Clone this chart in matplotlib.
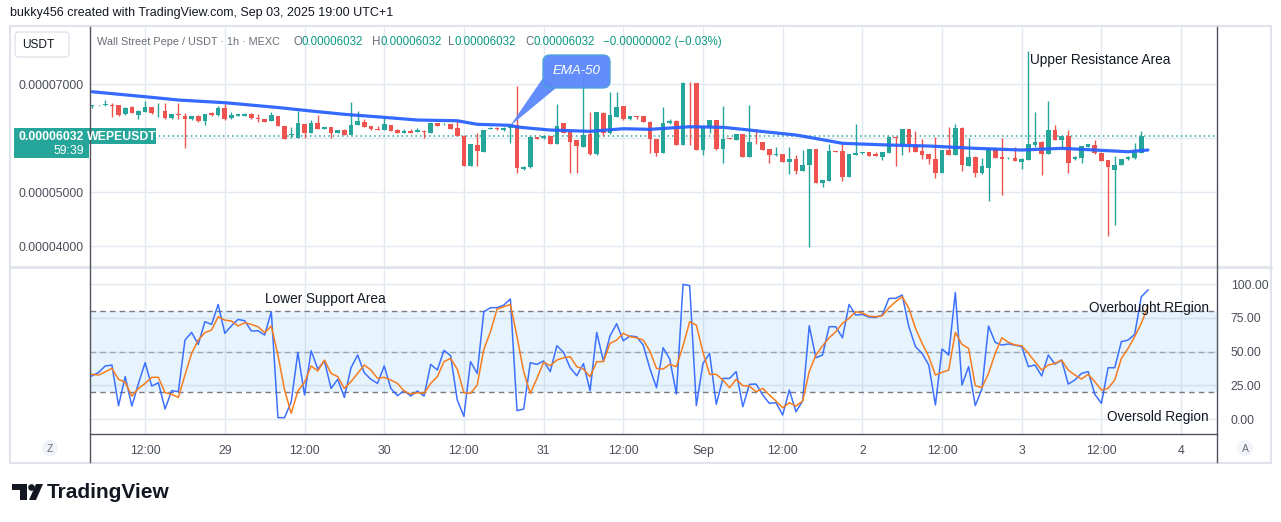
import matplotlib
matplotlib.use("Agg")
import matplotlib.pyplot as plt
from matplotlib.patches import FancyBboxPatch, Polygon, Rectangle, Circle
import numpy as np
import pandas as pd

plt.rcParams['font.family'] = ['Liberation Sans', 'DejaVu Sans']

W, H = 1281, 522
UNIT = 1e-8  # prices below are in units of 0.00000001 USDT

# ---------------- data ----------------
start_time = "2025-08-28 04:00"
opens = [6593, 6606, 6606, 6611, 6611, 6439, 6580, 6426, 6487, 6569,
         6457, 6506, 6365, 6439, 6407, 6346, 6413, 6320, 6457, 6420,
         6550, 6365, 6413, 6413, 6444, 6365, 6346, 6320, 6407, 6222,
         6065, 6006, 6259, 6098, 6283, 6172, 6204, 6098, 6148, 6061,
         6241, 6291, 6222, 6172, 6154, 6241, 6154, 6098, 6130, 6117,
         6135, 6098, 6278, 6254, 6259, 6185, 6043, 5487, 5870, 5746,
         6167, 6191, 6148, 6180, 6241, 5420, 5457, 6013, 5994, 6037,
         5894, 6278, 6130, 5963, 5839, 6074, 5698, 6469, 6087, 6394,
         6593, 6346, 6400, 6407, 6302, 5976, 5728, 6272, 6320, 5870,
         7024, 7019, 5778, 6209, 6333, 5796, 5994, 5963, 6074, 5654,
         5926, 5926, 5796, 5691, 5698, 5561, 5606, 5395, 5500, 5796,
         5172, 5209, 5759, 5759, 5283, 5685, 5717, 5735, 5704, 5643,
         5728, 6024, 5889, 6167, 5870, 5759, 5704, 5606, 5357, 5778,
         5685, 6191, 5487, 5654, 5346, 5450, 5809, 5654, 5624, 5635,
         5561, 5593, 5870, 5931, 5704, 6148, 5963, 6037, 5606, 5635,
         5839, 5865, 5728, 5593, 5407, 5500, 5606, 5624, 5728, 6032]
highs = [6615, 6615, 6704, 6654, 6615, 6567, 6590, 6512, 6685, 6575,
         6643, 6654, 6445, 6643, 6457, 6413, 6420, 6450, 6487, 6593,
         6630, 6482, 6445, 6469, 6463, 6439, 6352, 6487, 6413, 6230,
         6198, 6506, 6265, 6333, 6426, 6210, 6210, 6154, 6167, 6661,
         6500, 6352, 6228, 6222, 6394, 6248, 6160, 6167, 6167, 6180,
         6141, 6284, 6284, 6278, 6265, 6333, 6050, 5889, 6087, 6154,
         6209, 6198, 6209, 6228, 6963, 5475, 6030, 6019, 6037, 6043,
         6630, 6284, 6136, 5970, 7135, 6482, 6488, 6475, 6857, 6852,
         6600, 6413, 6407, 6413, 6309, 5982, 6569, 6346, 6326, 7030,
         7030, 7025, 6228, 6340, 6340, 6593, 6000, 6075, 6080, 6611,
         6167, 5932, 5802, 5833, 5704, 5839, 5685, 5778, 5802, 5802,
         5228, 5889, 5765, 5889, 5710, 6259, 5747, 5741, 5735, 5741,
         6030, 6030, 6173, 6173, 6130, 5981, 5710, 6024, 5784, 6209,
         6259, 6198, 6006, 5660, 5635, 5826, 5815, 5994, 5641, 5839,
         5623, 7611, 6487, 5937, 6685, 6241, 6043, 6148, 5660, 5858,
         5895, 5963, 5735, 5600, 5667, 5612, 5672, 5902, 6130, 6032]
lows = [6550, 6600, 6600, 6394, 6407, 6430, 6460, 6346, 6480, 6450,
        6383, 6358, 6358, 6346, 5809, 6340, 6300, 6241, 6413, 6413,
        6340, 6358, 6407, 6407, 6358, 6291, 6296, 6315, 6215, 5980,
        6006, 6000, 6006, 6090, 6160, 6165, 6006, 6090, 6055, 6055,
        6235, 6198, 6154, 6148, 6148, 6124, 6092, 6092, 6092, 6111,
        6006, 6092, 6215, 6248, 6165, 6037, 5480, 5480, 5487, 5740,
        6160, 6155, 6130, 5913, 5346, 5413, 5450, 5975, 5988, 5888,
        5888, 6092, 5346, 5346, 5833, 5692, 5692, 6037, 6080, 6388,
        6340, 6340, 6346, 6296, 5728, 5667, 5722, 6265, 5863, 5863,
        5870, 5770, 5685, 6098, 5778, 5543, 5980, 5957, 5648, 5648,
        5883, 5772, 5543, 5667, 5555, 5333, 5333, 5389, 3987, 5165,
        5098, 5203, 5735, 5209, 5277, 5680, 5710, 5667, 5667, 5593,
        5722, 5481, 5685, 5746, 5740, 5606, 5519, 5265, 5350, 5680,
        5680, 5395, 5480, 5283, 5340, 4833, 5630, 4944, 5617, 5574,
        5426, 5587, 5839, 5315, 5698, 5957, 5815, 5357, 5600, 5543,
        5833, 5710, 5574, 4185, 4389, 5494, 5600, 5617, 5722, 6032]
closes = [6611, 6611, 6624, 6598, 6426, 6561, 6469, 6506, 6580, 6457,
          6469, 6365, 6439, 6420, 6346, 6407, 6309, 6444, 6420, 6550,
          6346, 6426, 6439, 6444, 6365, 6346, 6302, 6426, 6222, 5987,
          6074, 6283, 6087, 6283, 6172, 6204, 6098, 6148, 6061, 6241,
          6315, 6204, 6172, 6154, 6254, 6130, 6098, 6130, 6098, 6143,
          6117, 6278, 6222, 6265, 6172, 6043, 5487, 5883, 5765, 6148,
          6180, 6161, 6185, 6222, 5439, 5469, 6024, 5981, 6031, 5894,
          6222, 6098, 5931, 5852, 6056, 5698, 6482, 6087, 6426, 6580,
          6346, 6407, 6394, 6302, 5976, 5728, 6272, 6320, 5870, 7024,
          7013, 5778, 6222, 6333, 5791, 5981, 5987, 6069, 5654, 5926,
          5920, 5778, 5685, 5704, 5561, 5606, 5395, 5500, 5796, 5172,
          5222, 5759, 5741, 5283, 5704, 5728, 5741, 5672, 5672, 5735,
          6024, 6006, 6167, 5889, 5746, 5685, 5606, 5357, 5778, 5685,
          6191, 5500, 5654, 5346, 5481, 5820, 5635, 5606, 5635, 5580,
          5617, 5889, 5931, 5704, 6148, 5963, 6037, 5543, 5654, 5852,
          5889, 5717, 5580, 5469, 5500, 5606, 5654, 5746, 6034, 6032]

# EMA-50 read at selected bars (bar index, value)
ema_idx = [0, 8, 13, 20, 28, 33, 38, 44, 49, 55, 58, 63, 64, 69, 75, 80, 84,
           90, 95, 98, 101, 106, 108, 113, 120, 126, 133, 140, 146, 151, 156, 159]
ema_val = [6857, 6765, 6704, 6654, 6565, 6500, 6439, 6383, 6333, 6320, 6254,
           6235, 6204, 6148, 6124, 6172, 6161, 6209, 6198, 6161, 6120, 6056,
           6013, 5902, 5870, 5852, 5809, 5778, 5809, 5778, 5746, 5778]

rsi = [31.9, 34.6, 39.3, 40.0, 9.9, 31.4, 9.6, 26.4, 41.7, 24.4,
       26.9, 7.4, 21.0, 20.2, 58.5, 64.2, 55.3, 72.1, 70.1, 84.9,
       63.5, 69.1, 73.8, 72.8, 65.2, 65.4, 62.2, 79.5, 1.0, 1.0,
       12.8, 49.4, 17.8, 50.6, 37.0, 43.0, 22.7, 29.4, 16.0, 38.0,
       47.4, 34.3, 29.4, 26.4, 39.3, 22.7, 17.3, 21.0, 17.0, 20.7,
       17.0, 40.5, 36.3, 50.9, 46.9, 14.1, 2.0, 42.5, 33.8, 79.5,
       82.5, 82.5, 84.4, 88.9, 6.2, 7.4, 41.7, 40.5, 43.0, 35.1,
       54.3, 49.4, 38.0, 32.1, 41.0, 21.0, 64.2, 43.0, 61.5, 70.6,
       58.0, 61.5, 61.0, 54.8, 37.5, 23.2, 52.8, 44.4, 18.5, 99.8,
       98.8, 9.9, 41.2, 48.6, 10.9, 30.1, 30.1, 35.1, 9.1, 25.7,
       25.9, 17.8, 11.6, 12.1, 3.0, 21.5, 5.4, 13.3, 69.1, 45.4,
       47.4, 68.4, 68.4, 60.2, 84.9, 77.0, 77.5, 75.5, 75.3, 77.0,
       89.4, 89.4, 91.9, 68.4, 53.6, 48.6, 40.0, 10.4, 51.9, 47.4,
       93.8, 25.2, 38.8, 9.9, 22.2, 68.9, 56.8, 54.8, 55.6, 54.8,
       53.6, 38.8, 40.0, 31.9, 47.4, 40.7, 43.7, 25.9, 28.9, 33.8,
       35.1, 18.3, 11.6, 38.0, 38.0, 57.3, 58.5, 62.7, 90.6, 95.6]
rsi_ma = [33.1, 32.6, 35.0, 37.5, 29.4, 27.2, 17.0, 22.7, 26.4, 30.9,
          30.9, 19.5, 18.3, 16.0, 32.6, 48.6, 58.5, 64.0, 65.9, 75.8,
          73.3, 72.6, 68.9, 71.4, 70.1, 68.4, 64.0, 68.9, 47.4, 21.5,
          4.2, 20.7, 27.2, 39.3, 35.6, 43.7, 33.8, 31.4, 22.7, 27.7,
          33.8, 40.0, 36.3, 30.1, 30.9, 28.9, 26.4, 20.7, 18.5, 19.5,
          19.0, 26.4, 31.4, 42.5, 44.9, 37.0, 19.5, 19.0, 25.2, 51.6,
          64.7, 81.5, 83.2, 84.9, 61.0, 35.1, 19.0, 30.1, 42.0, 39.5,
          43.7, 45.4, 46.2, 38.8, 37.0, 31.4, 42.5, 42.5, 56.0, 58.5,
          63.5, 61.0, 60.2, 58.5, 50.4, 37.5, 37.0, 40.5, 38.8, 54.3,
          72.1, 69.6, 49.4, 33.1, 33.1, 28.9, 23.2, 29.4, 24.7, 24.4,
          20.2, 22.7, 17.8, 13.3, 8.4, 12.1, 9.6, 13.3, 35.1, 47.4,
          54.1, 60.2, 64.7, 70.9, 74.6, 79.5, 78.5, 76.2, 75.8, 76.5,
          82.5, 86.9, 90.6, 82.0, 67.2, 56.0, 46.2, 32.6, 34.6, 36.3,
          64.2, 55.3, 52.3, 24.7, 23.2, 33.8, 48.6, 60.2, 56.8, 54.8,
          54.3, 48.6, 42.5, 36.3, 40.0, 41.2, 43.7, 36.3, 32.6, 29.6,
          33.1, 27.7, 21.5, 22.7, 28.9, 44.9, 52.3, 61.0, 70.9, 83.2]

price_ticks = [4000, 5000, 6000, 7000]
rsi_ticks = [0, 25, 50, 75, 100]
rsi_levels = [20, 50, 80]
last_price = 6032

UP, DOWN = '#26a69a', '#ef5350'
GRID = '#e3e9f0'
TXT = '#4a4e59'

times = pd.date_range(start_time, periods=len(closes), freq="h")
xs = np.arange(len(closes))
t0 = times[0]
tick_times = pd.date_range("2025-08-28 12:00", "2025-09-04 00:00", freq="12h")
tick_pos = [(t - t0) / pd.Timedelta(hours=1) for t in tick_times]
tick_lab = []
for t in tick_times:
    if t.hour == 12:
        tick_lab.append("12:00")
    elif t.day == 1:
        tick_lab.append(t.strftime("%b"))
    else:
        tick_lab.append(str(t.day))

# ---------------- figure ----------------
fig = plt.figure(figsize=(W / 100, H / 100), dpi=100)
fig.patch.set_facecolor('white')

def fbox(x0, y0, x1, y1):
    return [x0 / W, 1 - y1 / H, (x1 - x0) / W, (y1 - y0) / H]

ax = fig.add_axes(fbox(90, 27, 1217, 266))
ax2 = fig.add_axes(fbox(90, 268, 1217, 434))
XL = (-0.3, 169.4)

# --- price pane
o = np.array(opens) * UNIT
h = np.array(highs) * UNIT
l = np.array(lows) * UNIT
c = np.array(closes) * UNIT
cols = [UP if cc >= oo else DOWN for oo, cc in zip(o, c)]
ax.vlines(xs, l, h, colors=cols, lw=1, zorder=3)
body = np.maximum(np.abs(c - o), 14 * UNIT)
ax.bar(xs, body, bottom=np.minimum(o, c), width=0.7, color=cols, lw=0, zorder=4)
ax.plot(ema_idx, np.array(ema_val) * UNIT, color='#2962ff', lw=2.3,
        solid_capstyle='round', zorder=5, alpha=0.95)
ax.axhline(last_price * UNIT, color=UP, lw=1.1, ls=(0, (1, 2)), zorder=2)
ax.set_xlim(*XL)
ax.set_ylim(3630 * UNIT, 8056 * UNIT)
ax.set_yticks([v * UNIT for v in price_ticks])
ax.set_yticklabels([f"{v * UNIT:.8f}" for v in price_ticks])
ax.set_xticks(tick_pos)
ax.tick_params(axis='x', labelbottom=False, length=0)
ax.tick_params(axis='y', length=0, pad=4.5, labelsize=8.8, labelcolor=TXT)
ax.grid(True, color=GRID, lw=1)
ax.set_axisbelow(True)
for s in ax.spines.values():
    s.set_visible(False)

# --- RSI pane
ax2.axhspan(rsi_levels[0], rsi_levels[2], color='#2196f3', alpha=0.1, lw=0, zorder=1)
for lv, a in zip(rsi_levels, [1, 0.6, 1]):
    ax2.axhline(lv, color='#787b86', lw=1, ls=(0, (4, 3)), alpha=a, zorder=2)
ax2.plot(xs, rsi, color='#2962ff', lw=1.1, zorder=4, alpha=0.9)
ax2.plot(xs, rsi_ma, color='#f57c1f', lw=1.1, zorder=5)
ax2.set_xlim(*XL)
ax2.set_ylim(-11.1, 111.9)
ax2.set_yticks(rsi_ticks)
ax2.set_yticklabels([f"{v:.2f}" for v in rsi_ticks])
ax2.yaxis.tick_right()
ax2.set_xticks(tick_pos)
ax2.set_xticklabels(tick_lab)
ax2.tick_params(axis='y', length=0, pad=10, labelsize=8.8, labelcolor=TXT)
ax2.tick_params(axis='x', length=0, pad=8, labelsize=8.8, labelcolor=TXT)
ax2.grid(True, color=GRID, lw=1)
ax2.set_axisbelow(True)
for s in ax2.spines.values():
    s.set_visible(False)

# ---------------- overlay in pixel coordinates ----------------
ov = fig.add_axes([0, 0, 1, 1], zorder=10)
ov.set_xlim(0, W)
ov.set_ylim(H, 0)
ov.axis('off')

ov.add_patch(Rectangle((10, 26), 1261, 437, fill=False, ec='#e0e3eb', lw=1.5))
ov.plot([10, 1271], [267, 267], color='#e0e3eb', lw=2)
ov.plot([90, 90], [27, 462], color='#50535e', lw=1)
ov.plot([1217, 1217], [27, 462], color='#50535e', lw=1)
ov.plot([90, 1217], [434, 434], color='#50535e', lw=1)

ov.text(10, 13, "bukky456 created with TradingView.com, Sep 03, 2025 19:00 UTC+1",
        fontsize=9, color='#131722', va='center', ha='left')

# symbol header
hdr_y = 42
ov.text(97, hdr_y, "Wall Street Pepe / USDT · 1h · MEXC", fontsize=7.8,
        color='#6a6d78', va='center')
for xx, lab in [(293, "O"), (372, "H"), (448, "L"), (525, "C")]:
    t = ov.text(xx, hdr_y, lab, fontsize=8.3, color='#6a6d78', va='center')
    ov.annotate("0.00006032", xy=(1, 0), xycoords=t, fontsize=8.3,
                color='#089981', va='bottom')
ov.text(603, hdr_y, "\u22120.00000002 (\u22120.03%)", fontsize=8.3,
        color='#089981', va='center')

# USDT box
ov.add_patch(FancyBboxPatch((15, 32), 54, 25, boxstyle="round,pad=0,rounding_size=4",
                            fc='white', ec='#e0e3eb', lw=1))
ov.text(38, 44.5, "USDT", fontsize=8.6, color='#131722', ha='center', va='center')

# last price tag on the left scale
ov.add_patch(Rectangle((14, 128), 75, 30, fc=UP, ec='none'))
ov.text(84, 137, "0.00006032", fontsize=8.8, color='white', fontweight='bold',
        ha='right', va='center')
ov.text(84, 151, "59:39", fontsize=8.8, color='white', ha='right', va='center')
ov.add_patch(Rectangle((89, 128), 67, 16, fc=UP, ec='none'))
ov.text(122, 136.5, "WEPEUSDT", fontsize=8.8, color='white', fontweight='bold',
        ha='center', va='center')

# EMA-50 callout
call_c = '#5b87fb'
ov.add_patch(Polygon([(543, 78), (556, 88), (510, 126)], closed=True,
                     fc=call_c, ec='none', alpha=0.95))
ov.add_patch(FancyBboxPatch((543, 55), 67, 33, boxstyle="round,pad=0,rounding_size=7",
                            fc=call_c, ec='#4ba3d9', lw=1, alpha=0.95))
ov.text(576.5, 71.5, "EMA-50", fontsize=9.5, color='white', style='italic',
        ha='center', va='center')

# annotations
ov.text(1030, 60, "Upper Resistance Area", fontsize=9.8, color='#131722', va='center')
ov.text(265, 299, "Lower Support Area", fontsize=9.8, color='#131722', va='center')
ov.text(1209, 308, "Overbought REgion", fontsize=9.8, color='#131722',
        va='center', ha='right')
ov.text(1209, 417, "Oversold Region", fontsize=9.8, color='#131722',
        va='center', ha='right')

# Z / A buttons
ov.add_patch(Circle((50, 448), 8, fc='#f0f3fa', ec='none'))
ov.text(50, 448.5, "Z", fontsize=7.5, color='#6a6d78', ha='center', va='center')
ov.add_patch(Circle((1245, 448), 8, fc='#f0f3fa', ec='none'))
ov.text(1245, 448.5, "A", fontsize=7.5, color='#6a6d78', ha='center', va='center')

# TradingView logo
ov.add_patch(Polygon([(12, 484), (27, 484), (27, 500), (20, 500), (20, 490), (12, 490)],
                     closed=True, fc='#131722', ec='none'))
ov.add_patch(Circle((31.5, 487.5), 3.3, fc='#131722', ec='none'))
ov.add_patch(Polygon([(36, 484), (43, 484), (36, 500), (29, 500)], closed=True,
                     fc='#131722', ec='none'))
ov.text(47, 492, "TradingView", fontsize=15, fontweight='bold', color='#131722',
        va='center', ha='left')

fig.savefig("out.png", dpi=100)
